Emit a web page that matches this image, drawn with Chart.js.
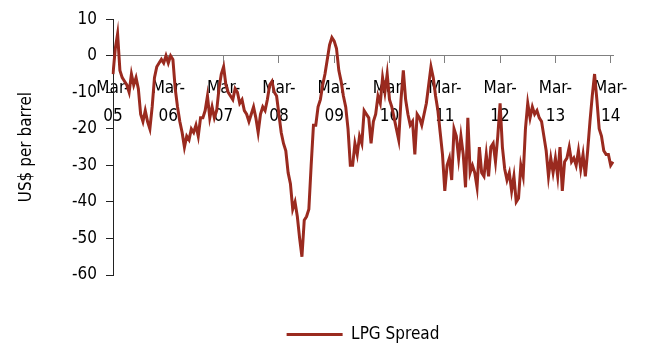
<!DOCTYPE html>
<html>
<head>
<meta charset="utf-8">
<script src="https://cdn.jsdelivr.net/npm/chart.js@4/dist/chart.umd.min.js"></script>
<style>
  html, body { margin: 0; padding: 0; background: #fff; }
  canvas { display: block; }
</style>
</head>
<body>
<canvas id="chart" width="646" height="344"></canvas>
<script>
// LPG spread, US$ per barrel, sampled twice a month from Mar-05
const spread = [
  -5, 2, 6, -4, -6, -7, -8, -10, -5, -8, -6, -9, -16, -18, -15, -18, -20, -14, -6, -3,
  -2, -1, -2, 0, -2, 0, -1, -9, -14, -18, -21, -25, -22, -23, -20, -21, -19, -22, -17, -17,
  -15, -11, -17, -14, -17, -15, -9, -5, -3, -8, -10, -11, -12, -9, -10, -13, -12, -15, -16, -18,
  -16, -14, -17, -21, -16, -14, -15, -12, -8, -7, -10, -11, -16, -21, -24, -26, -32, -35, -42, -40,
  -44, -50, -55, -45, -44, -42, -30, -19, -19, -14, -12, -8, -5, -1, 3, 5, 4, 2, -4, -7,
  -11, -14, -20, -30, -30, -24, -27, -22, -24, -15, -16, -17, -24, -18, -16, -11, -13, -6, -10, -5,
  -12, -14, -17, -20, -23, -12, -4, -12, -16, -19, -18, -27, -16, -17, -19, -16, -13, -8, -3, -6,
  -11, -15, -21, -27, -37, -30, -28, -34, -20, -22, -28, -22, -27, -36, -17, -32, -30, -32, -36, -25,
  -32, -33, -27, -33, -25, -24, -29, -22, -13, -25, -31, -34, -32, -37, -33, -40, -39, -30, -33, -20,
  -13, -17, -14, -16, -15, -17, -18, -22, -26, -33, -28, -32, -28, -33, -25, -37, -29, -28, -25, -29,
  -28, -30, -26, -31, -27, -33, -26, -18, -11, -5, -12, -20, -22, -26, -27, -27, -30, -29
];
const tickYears = ['05', '06', '07', '08', '09', '10', '11', '12', '13', '14'];
const monthNames = ['Jan', 'Feb', 'Mar', 'Apr', 'May', 'Jun', 'Jul', 'Aug', 'Sep', 'Oct', 'Nov', 'Dec'];

const labels = spread.map((v, i) => {
  const m = 2 + Math.floor(i / 2);
  const year = 2005 + Math.floor(m / 12);
  return (i % 2 ? '15 ' : '1 ') + monthNames[m % 12] + ' ' + year;
});

const fontFamily = '"Liberation Sans Narrow", "DejaVu Sans Condensed", "Arial Narrow", sans-serif';
const lineColor = '#9a2a1f';

new Chart(document.getElementById('chart'), {
  type: 'line',
  data: {
    labels: labels,
    datasets: [{
      label: 'LPG Spread',
      data: spread,
      borderColor: lineColor,
      backgroundColor: lineColor,
      borderWidth: 3,
      pointRadius: 0,
      tension: 0
    }]
  },
  options: {
    responsive: false,
    animation: false,
    layout: { padding: { top: 18, right: 33, left: 0, bottom: -9 } },
    plugins: {
      tooltip: { enabled: false },
      legend: {
        position: 'bottom',
        fullSize: false,
        title: { display: true, text: ' ', padding: { top: 35, bottom: 0 }, font: { size: 10 } },
        labels: {
          usePointStyle: true,
          pointStyle: 'line',
          pointStyleWidth: 56,
          color: '#000',
          padding: 4,
          font: { family: fontFamily, size: 17 }
        }
      }
    },
    scales: {
      x: {
        type: 'category',
        position: { y: 0 },
        offset: false,
        afterBuildTicks: scale => {
          scale.ticks = tickYears.map((y, k) => ({ value: k * 24 }));
        },
        grid: { drawOnChartArea: false, drawTicks: true, tickLength: 7, color: '#808080' },
        border: { color: '#808080', width: 1 },
        ticks: {
          autoSkip: false,
          maxRotation: 0,
          minRotation: 0,
          padding: 12,
          color: '#000',
          font: { family: fontFamily, size: 17, lineHeight: '28px' },
          callback: function(value) {
            return ['Mar-', tickYears[Math.round(value / 24)]];
          }
        }
      },
      y: {
        min: -60,
        max: 10,
        afterFit: scale => { scale.width = 113; },
        grid: { drawOnChartArea: false, drawTicks: true, tickLength: 7, color: '#222' },
        border: { color: '#222', width: 1 },
        ticks: {
          stepSize: 10,
          padding: 9,
          color: '#000',
          font: { family: fontFamily, size: 17 }
        },
        title: {
          display: true,
          text: 'US$ per barrel',
          color: '#000',
          padding: { top: 16, bottom: 0 },
          font: { family: fontFamily, size: 17 }
        }
      }
    }
  }
});
</script>
</body>
</html>
